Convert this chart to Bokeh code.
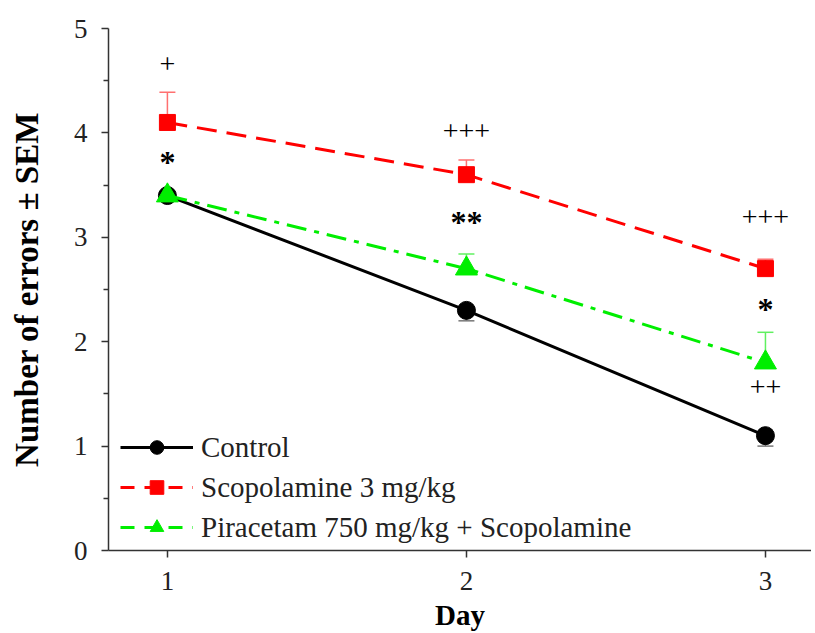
from bokeh.plotting import figure
from bokeh.models import ColumnDataSource, Whisker, TeeHead, Range1d, FixedTicker, Legend, LegendItem
from bokeh.core.properties import value
from bokeh.embed import file_html
from bokeh.resources import INLINE

days = [1, 2, 3]
control = [3.4, 2.3, 1.1]
control_sem = [0.04, 0.1, 0.1]
scop = [4.1, 3.6, 2.7]
scop_sem = [0.29, 0.14, 0.09]
pira = [3.4, 2.7, 1.8]
pira_sem = [0.04, 0.14, 0.29]

plus_x = [1, 2, 3, 3]
plus_y = [4.66, 4.02, 3.19, 1.57]
plus_text = ["+", "+++", "+++", "++"]
star_x = [1, 2, 3]
star_y = [3.72, 3.15, 2.31]
star_text = ["*", "**", "*"]

names = ["Control", "Scopolamine 3 mg/kg", "Piracetam 750 mg/kg + Scopolamine"]

FONT = "Liberation Serif"

p = figure(width=811, height=633, output_backend="svg", toolbar_location=None,
           x_range=Range1d(0.803, 3.154), y_range=Range1d(0, 5),
           min_border_left=108, min_border_right=0, min_border_top=28, min_border_bottom=81)
p.outline_line_color = None
p.xgrid.visible = False
p.ygrid.visible = False

# error bars
cs = ColumnDataSource(dict(x=days, lo=[c - e for c, e in zip(control, control_sem)], hi=control))
ss = ColumnDataSource(dict(x=days, lo=scop, hi=[s + e for s, e in zip(scop, scop_sem)]))
ps = ColumnDataSource(dict(x=days, lo=pira, hi=[s + e for s, e in zip(pira, pira_sem)]))

for src, col, up in [(cs, "#777777", False), (ss, "#ff7070", True), (ps, "#60f060", True)]:
    head = TeeHead(size=16, line_color=col, line_width=1.5)
    w = Whisker(source=src, base="x", lower="lo", upper="hi", line_color=col, line_width=1.5,
                upper_head=head if up else None, lower_head=None if up else head)
    p.add_layout(w)

styles = [
    dict(color="black", dash="solid", marker="circle", size=18, lsize=13),
    dict(color="#ff0000", dash="20 10", marker="square", size=16, lsize=13),
    dict(color="#00ee00", dash="20 8 5 8", marker="triangle", size=22, lsize=17),
]
items = []
for vals, st, name in zip([control, scop, pira], styles, names):
    p.line(days, vals, line_color=st["color"], line_width=3, line_dash=st["dash"])
    p.scatter(days, vals, marker=st["marker"], size=st["size"], color=st["color"])
    # legend-only glyphs (smaller markers as in the reference)
    lr = p.line([float("nan")], [float("nan")], line_color=st["color"], line_width=3,
                line_dash="solid" if st["dash"] == "solid" else "14 10")
    mr = p.scatter([float("nan")], [float("nan")], marker=st["marker"], size=st["lsize"], color=st["color"])
    items.append(LegendItem(label=name, renderers=[lr, mr]))

p.text(plus_x, plus_y, text=plus_text, text_font=value(FONT), text_font_size="28px",
       text_align="center", text_baseline="middle", text_color="black")
p.text(star_x, star_y, text=star_text, text_font=value(FONT), text_font_size="32px",
       text_font_style="bold", text_align="center", text_baseline="middle", text_color="black")

# axes
p.xaxis.ticker = FixedTicker(ticks=days)
p.yaxis.ticker = FixedTicker(ticks=[0, 1, 2, 3, 4, 5], minor_ticks=[0.5, 1.5, 2.5, 3.5, 4.5])
for ax in (p.xaxis[0], p.yaxis[0]):
    ax.axis_line_width = 1.5
    ax.axis_line_color = "#333333"
    ax.major_tick_line_color = "#333333"
    ax.major_tick_line_width = 1.5
    ax.major_tick_out = 7
    ax.major_tick_in = 0
    ax.major_label_text_font = FONT
    ax.major_label_text_font_size = "27px"
    ax.major_label_text_color = "#222222"
    ax.axis_label_text_font = FONT
    ax.axis_label_text_font_style = "bold"
    ax.axis_label_text_color = "black"
p.xaxis.axis_label_text_font_size = "29px"
p.yaxis.axis_label_text_font_size = "33px"
p.xaxis.minor_tick_line_color = None
p.yaxis.minor_tick_out = 5
p.yaxis.minor_tick_in = 0
p.yaxis.minor_tick_line_color = "#333333"
p.yaxis.minor_tick_line_width = 1.5
p.xaxis.axis_label = "Day"
p.yaxis.axis_label = "Number of errors ± SEM"
p.xaxis.axis_label_standoff = 6
p.yaxis.axis_label_standoff = 26
p.xaxis.major_label_standoff = 14
p.yaxis.major_label_standoff = 14

lg = Legend(items=items, location=(12, 6))
lg.background_fill_alpha = 0
lg.border_line_color = None
lg.padding = 2
lg.margin = 0
lg.spacing = 6
lg.glyph_width = 73
lg.glyph_height = 34
lg.label_height = 34
lg.label_standoff = 8
lg.label_text_font = FONT
lg.label_text_font_size = "29px"
lg.label_text_color = "#222222"
p.add_layout(lg, "center")

open("out.html", "w").write(file_html(p, INLINE))
